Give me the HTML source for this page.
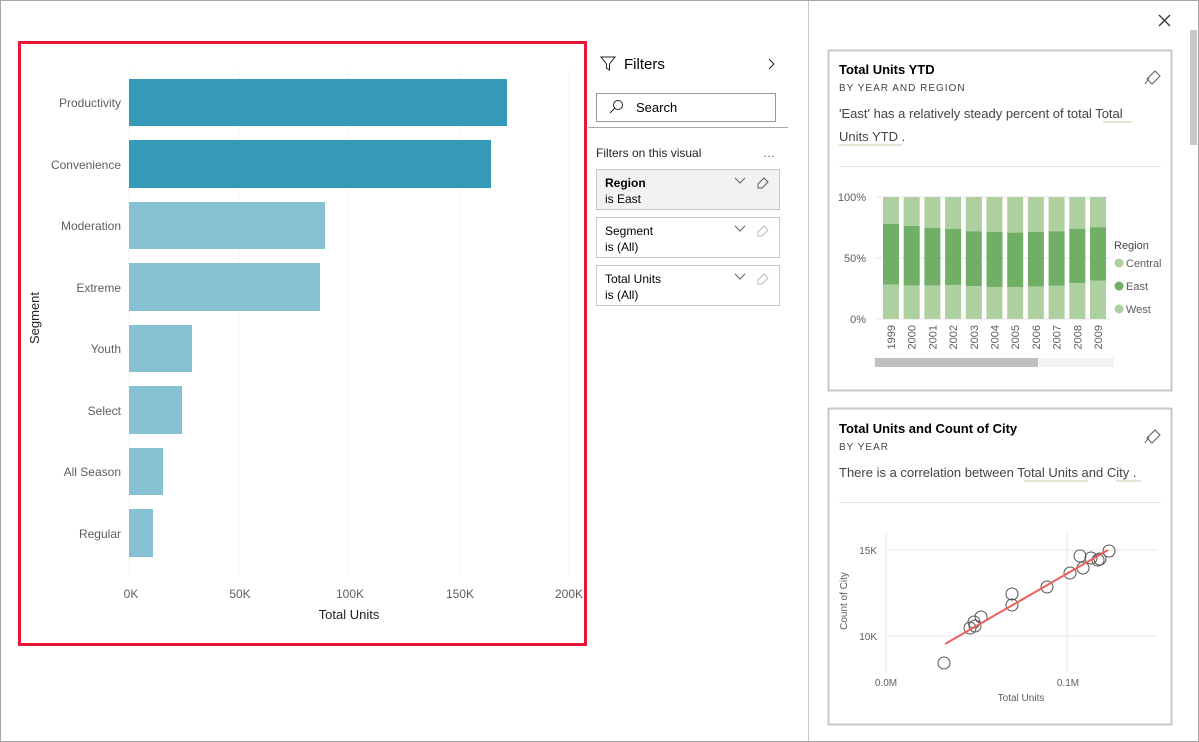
<!DOCTYPE html>
<html><head><meta charset="utf-8"><style>
body{margin:0;width:1199px;height:742px;overflow:hidden;background:#fff;font-family:"Liberation Sans",sans-serif;color:#252423;position:relative}
.a{position:absolute}
</style></head><body>
<div class="a" style="left:0;top:0;width:1197px;height:740px;border:1px solid #a6a6a6"></div>
<div class="a" style="left:808px;top:1px;width:1px;height:740px;background:#c8c8c8"></div>
<svg class="a" style="left:0;top:0" width="1199" height="742">
<rect x="19.5" y="42.5" width="566" height="602" fill="none" stroke="#e8173a" stroke-width="3"/>
<g stroke="#ddd" stroke-dasharray="1,3">
<line x1="129" y1="70" x2="129" y2="575"/><line x1="239" y1="70" x2="239" y2="575"/><line x1="349" y1="70" x2="349" y2="575"/><line x1="459" y1="70" x2="459" y2="575"/><line x1="569" y1="70" x2="569" y2="575"/></g>
<g fill="#3599b8"><rect x="129" y="79" width="378" height="47"/><rect x="129" y="140" width="362" height="48"/></g>
<g fill="#87c1d4"><rect x="129" y="202" width="196" height="47"/><rect x="129" y="263" width="191" height="48"/><rect x="129" y="325" width="63" height="47"/><rect x="129" y="386" width="53" height="48"/><rect x="129" y="448" width="34" height="47"/><rect x="129" y="509" width="24" height="48"/></g>
<g font-size="12" fill="#605e5c" text-anchor="end">
<text x="121" y="107">Productivity</text><text x="121" y="169">Convenience</text><text x="121" y="230">Moderation</text><text x="121" y="292">Extreme</text><text x="121" y="353">Youth</text><text x="121" y="415">Select</text><text x="121" y="476">All Season</text><text x="121" y="538">Regular</text></g>
<g font-size="12" fill="#605e5c" text-anchor="middle">
<text x="131" y="598">0K</text><text x="240" y="598">50K</text><text x="350" y="598">100K</text><text x="460" y="598">150K</text><text x="569" y="598">200K</text></g>
<text x="349" y="619" font-size="13" fill="#252423" text-anchor="middle">Total Units</text>
<text transform="translate(39,318) rotate(-90)" font-size="13" fill="#252423" text-anchor="middle">Segment</text>
<!-- filters -->
<path d="M601 57h14l-5.5 7v6l-3 -2v-4z" fill="none" stroke="#252423"/>
<text x="624" y="69" font-size="15">Filters</text>
<path d="M769 59l5 5l-5 5" fill="none" stroke="#252423"/>
<rect x="596.5" y="93.5" width="179" height="28" fill="#fff" stroke="#999"/>
<circle cx="618" cy="105" r="4.5" fill="none" stroke="#252423"/><line x1="615" y1="108" x2="610" y2="113" stroke="#252423"/>
<text x="636" y="112" font-size="13">Search</text>
<line x1="588" y1="127.5" x2="788" y2="127.5" stroke="#a6a6a6"/>
<text x="596" y="157" font-size="12" fill="#252423">Filters on this visual</text>
<text x="763" y="157" font-size="12" fill="#605e5c">…</text>
<rect x="596.5" y="169.5" width="183" height="40" fill="#f3f2f1" stroke="#c8c6c4"/>
<rect x="596.5" y="217.5" width="183" height="40" fill="#fff" stroke="#c8c6c4"/>
<rect x="596.5" y="265.5" width="183" height="40" fill="#fff" stroke="#c8c6c4"/>
<g font-size="12"><text x="605" y="187" font-weight="bold">Region</text><text x="605" y="203">is East</text>
<text x="605" y="235">Segment</text><text x="605" y="251">is (All)</text>
<text x="605" y="283">Total Units</text><text x="605" y="299">is (All)</text></g>
<g fill="none" stroke="#605e5c"><path d="M735 178l5 5l5 -5"/><path d="M735 226l5 5l5 -5"/><path d="M735 274l5 5l5 -5"/></g>
<g fill="none"><path d="M758 184l6 -6l4 4l-6 6h-4z" stroke="#605e5c"/><path d="M758 232l6 -6l4 4l-6 6h-4z" stroke="#bbb"/><path d="M758 280l6 -6l4 4l-6 6h-4z" stroke="#bbb"/></g>
<!-- right panel -->
<path d="M1159 15l11 11M1170 15l-11 11" stroke="#333" stroke-width="1.3"/>
<rect x="1190" y="30" width="7" height="115" fill="#c8c8c8"/>
<rect x="828.5" y="50.5" width="343" height="340" fill="none" stroke="#c8c8c8" stroke-width="2"/>
<rect x="828.5" y="408.5" width="343" height="316" fill="none" stroke="#c8c8c8" stroke-width="2"/>
<text x="839" y="74" font-size="13" font-weight="bold">Total Units YTD</text>
<text x="839" y="91" font-size="10" letter-spacing="1" fill="#444">BY YEAR AND REGION</text>
<text x="839" y="118" font-size="13" fill="#444">'East' has a relatively steady percent of total Total</text>
<text x="839" y="141" font-size="13" fill="#444">Units YTD .</text>
<line x1="1103" y1="122" x2="1132" y2="122" stroke="#dddcc4" stroke-width="1.5"/>
<line x1="839" y1="145" x2="902" y2="145" stroke="#dddcc4" stroke-width="1.5"/>
<line x1="839" y1="166.5" x2="1161" y2="166.5" stroke="#e6e6e6"/>
<path d="M1147 79l8 -8l5 5l-8 8zM1149 78l-4 6" fill="none" stroke="#605e5c"/>
<g stroke="#e6e6e6"><line x1="876" y1="197" x2="1110" y2="197"/><line x1="876" y1="258" x2="1110" y2="258"/><line x1="876" y1="319" x2="1110" y2="319"/></g>
<g font-size="11" fill="#605e5c" text-anchor="end"><text x="866" y="201">100%</text><text x="866" y="262">50%</text><text x="866" y="323">0%</text></g>
<g id="stk"></g>
<text x="1114" y="249" font-size="11" fill="#444">Region</text>
<circle cx="1119" cy="263" r="4.5" fill="#aed0a0"/><text x="1126" y="267" font-size="11" fill="#605e5c">Central</text>
<circle cx="1119" cy="286" r="4.5" fill="#71ae66"/><text x="1126" y="290" font-size="11" fill="#605e5c">East</text>
<circle cx="1119" cy="309" r="4.5" fill="#aed0a0"/><text x="1126" y="313" font-size="11" fill="#605e5c">West</text>
<rect x="875" y="358" width="163" height="9" fill="#c0c0c0"/><rect x="1038" y="358" width="76" height="9" fill="#f2f2f2"/>
<text x="839" y="433" font-size="13" font-weight="bold">Total Units and Count of City</text>
<text x="839" y="450" font-size="10" letter-spacing="1" fill="#444">BY YEAR</text>
<text x="839" y="477" font-size="13" fill="#444">There is a correlation between Total Units and City .</text>
<line x1="1024" y1="481" x2="1088" y2="481" stroke="#dddcc4" stroke-width="1.5"/>
<line x1="1116" y1="481" x2="1141" y2="481" stroke="#dddcc4" stroke-width="1.5"/>
<line x1="839" y1="502.5" x2="1161" y2="502.5" stroke="#e6e6e6"/>
<path d="M1147 438l8 -8l5 5l-8 8zM1149 437l-4 6" fill="none" stroke="#605e5c"/>
<g stroke="#e8e8e8"><line x1="886" y1="532" x2="886" y2="672"/><line x1="1067" y1="532" x2="1067" y2="672"/><line x1="886" y1="550" x2="1157" y2="550"/><line x1="886" y1="636" x2="1157" y2="636"/></g>
<g font-size="10" fill="#605e5c"><text x="877" y="554" text-anchor="end">15K</text><text x="877" y="640" text-anchor="end">10K</text>
<text x="886" y="686" text-anchor="middle">0.0M</text><text x="1068" y="686" text-anchor="middle">0.1M</text>
<text x="1021" y="701" text-anchor="middle">Total Units</text>
<text transform="translate(847,601) rotate(-90)" text-anchor="middle">Count of City</text></g>
<g fill="none" stroke="#555" stroke-width="1">
<circle cx="944" cy="663" r="6"/><circle cx="970" cy="628" r="6"/><circle cx="974" cy="622" r="6"/><circle cx="975" cy="626" r="6"/><circle cx="981" cy="617" r="6"/><circle cx="1012" cy="594" r="6"/><circle cx="1012" cy="605" r="6"/><circle cx="1047" cy="587" r="6"/><circle cx="1070" cy="573" r="6"/><circle cx="1080" cy="556" r="6"/><circle cx="1083" cy="568" r="6"/><circle cx="1091" cy="558" r="6"/><circle cx="1098" cy="560" r="6"/><circle cx="1100" cy="559" r="6"/><circle cx="1109" cy="551" r="6"/></g>
<line x1="945" y1="644" x2="1108" y2="550" stroke="#f0605a" stroke-width="2"/>
</svg>
<script>
var t=[.78,.763,.747,.738,.719,.714,.708,.714,.719,.738,.752],b=[.283,.275,.275,.278,.27,.262,.262,.267,.272,.294,.313],s='',g=document.getElementById('stk');
for(var i=0;i<11;i++){var x=883+i*20.7,yt=319-122*t[i],yb=319-122*b[i];
s+='<rect x="'+x+'" y="197" width="16" height="'+(yt-197)+'" fill="#aed0a0"/><rect x="'+x+'" y="'+yt+'" width="16" height="'+(yb-yt)+'" fill="#71ae66"/><rect x="'+x+'" y="'+yb+'" width="16" height="'+(319-yb)+'" fill="#aed0a0"/>';
s+='<text transform="translate('+(x+12)+',325) rotate(-90)" font-size="11" fill="#605e5c" text-anchor="end">'+(1999+i)+'</text>';}
g.innerHTML=s;
</script>
</body></html>
